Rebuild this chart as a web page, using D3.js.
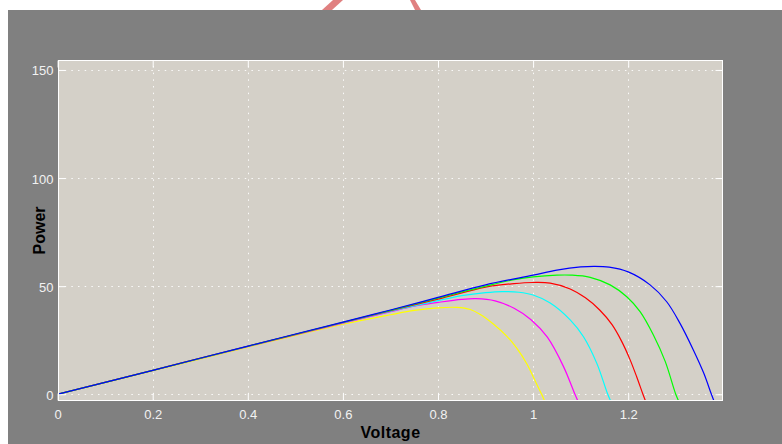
<!DOCTYPE html>
<html><head><meta charset="utf-8">
<script src="https://cdn.jsdelivr.net/npm/d3@7"></script>
<style>
html,body{margin:0;padding:0;background:#fff;}
svg{display:block;}
</style></head>
<body>
<svg id="c" width="782" height="444"></svg>
<script>
// ---- data ----
const xTicks = [0, 0.2, 0.4, 0.6, 0.8, 1, 1.2];
const xTickLabels = ["0", "0.2", "0.4", "0.6", "0.8", "1", "1.2"];
const yTicks = [0, 50, 100, 150];
const yTickLabels = ["0", "50", "100", "150"];
const xLabel = "Voltage";
const yLabel = "Power";

const seriesNames = ["yellow", "magenta", "cyan", "red", "green", "blue"];
const seriesColors = ["#ffff00", "#ff00ff", "#00ffff", "#ff0000", "#00ff00", "#0000ff"];

const yellowPts = [[0,0],[0.2,10.9],[0.4,21.8],[0.6,32.4],[0.7,36.8],[0.75,38.8],[0.8,40.0],[0.84,40.2],[0.868,39.2],[0.889,36.9],[0.917,32.4],[0.945,26.8],[0.966,21.2],[0.987,14.0],[1.003,6.8],[1.018,0],[1.026,-4]];
const magentaPts = [[0,0],[0.2,11.0],[0.4,22.0],[0.6,32.9],[0.7,38.2],[0.75,40.8],[0.8,42.5],[0.85,43.9],[0.88,44.2],[0.92,43.2],[0.96,39.8],[0.995,34.6],[1.03,26.4],[1.064,12.8],[1.088,0],[1.096,-4]];
const cyanPts = [[0,0],[0.2,11.0],[0.4,22.1],[0.6,33.1],[0.7,38.5],[0.8,43.3],[0.85,45.6],[0.9,47.0],[0.935,47.5],[0.97,47.2],[1.0,45.9],[1.036,42.2],[1.078,34.4],[1.106,26.6],[1.134,14.3],[1.157,0],[1.165,-4]];
const redPts = [[0,0],[0.2,11.1],[0.4,22.2],[0.6,33.2],[0.7,38.7],[0.8,44.0],[0.9,49.6],[0.96,51.2],[1.0,51.7],[1.036,51.4],[1.078,48.7],[1.11,44.6],[1.14,39.0],[1.166,32.2],[1.186,24.6],[1.203,16.5],[1.218,8.0],[1.231,0],[1.238,-4]];
const greenPts = [[0,0],[0.2,11.1],[0.4,22.2],[0.6,33.3],[0.7,38.8],[0.8,44.5],[0.9,50.0],[0.96,53.0],[1.0,54.3],[1.05,55.1],[1.08,55.1],[1.12,54.1],[1.162,50.6],[1.197,45.1],[1.225,38.2],[1.253,27.4],[1.278,15.1],[1.30,0],[1.308,-4]];
const bluePts = [[0,0],[0.2,11.1],[0.4,22.3],[0.6,33.4],[0.7,39.0],[0.8,44.8],[0.9,50.6],[1.0,55.1],[1.05,57.4],[1.1,58.9],[1.13,59.2],[1.16,58.8],[1.2,56.6],[1.246,50.6],[1.281,42.8],[1.309,32.8],[1.337,20.5],[1.359,9.7],[1.375,0],[1.382,-4]];

const seriesData = [yellowPts, magentaPts, cyanPts, redPts, greenPts, bluePts];

// ---- layout ----
const svg = d3.select("#c");
const L = 58, R = 723, T = 60, B = 401;
const x = d3.scaleLinear().domain([0, 1.4]).range([57.6, 723.3]);
const y = d3.scaleLinear().domain([-3.1, 154.6]).range([B, T]);

// figure background
svg.append("rect").attr("x", 8).attr("y", 10).attr("width", 782 - 8).attr("height", 444 - 10).attr("fill", "#808080");

// faint red marks at the top edge
svg.append("path").attr("d", "M333,0 L343,0 L332,10 L322,10 Z").attr("fill", "#e08080");
svg.append("path").attr("d", "M410,0 L415,0 L421,10 L415,10 Z").attr("fill", "#e08080");

// plot background
svg.append("rect").attr("x", L).attr("y", T).attr("width", R - L).attr("height", B - T).attr("fill", "#d4d0c8");

// grid
const grid = svg.append("g").attr("stroke", "#ffffff").attr("stroke-width", 1).attr("stroke-dasharray", "1.5,5.17").attr("opacity", 0.9);
grid.selectAll("line.gx").data(xTicks.slice(1)).join("line")
  .attr("x1", d => Math.round(x(d)) + 0.5).attr("x2", d => Math.round(x(d)) + 0.5)
  .attr("y1", B).attr("y2", T);
grid.selectAll("line.gy").data(yTicks).join("line")
  .attr("y1", d => Math.round(y(d)) + 0.5).attr("y2", d => Math.round(y(d)) + 0.5)
  .attr("x1", L).attr("x2", R);

// curves
const defs = svg.append("defs");
defs.append("clipPath").attr("id", "clip").append("rect").attr("x", L).attr("y", T).attr("width", R - L).attr("height", B - T);
const line = d3.line().x(d => x(d[0])).y(d => y(d[1])).curve(d3.curveCatmullRom.alpha(0.5));
svg.append("g").attr("clip-path", "url(#clip)")
  .selectAll("path").data(seriesData).join("path")
  .attr("d", line).attr("fill", "none")
  .attr("stroke", (d, i) => seriesColors[i]).attr("stroke-width", 1.2);

// box
svg.append("rect").attr("x", L + 0.5).attr("y", T + 0.5).attr("width", R - L - 1).attr("height", B - T - 1)
  .attr("fill", "none").attr("stroke", "#ffffff").attr("stroke-width", 1);

// axes with inward ticks
const tickFont = "'Liberation Sans', Arial, sans-serif";
const axB = d3.axisBottom(x).tickValues(xTicks).tickFormat((d, i) => xTickLabels[i]).tickSize(-7).tickPadding(6);
const gB = svg.append("g").attr("transform", `translate(0,${B - 0.5})`).call(axB);
const axT = d3.axisTop(x).tickValues(xTicks).tickFormat("").tickSize(-7);
const gT = svg.append("g").attr("transform", `translate(0,${T + 0.5})`).call(axT);
const axL = d3.axisLeft(y).tickValues(yTicks).tickFormat((d, i) => yTickLabels[i]).tickSize(-7).tickPadding(5);
const gL = svg.append("g").attr("transform", `translate(${L + 0.5},0)`).call(axL);
const axR = d3.axisRight(y).tickValues(yTicks).tickFormat("").tickSize(-7);
const gR = svg.append("g").attr("transform", `translate(${R - 0.5},0)`).call(axR);

[gB, gT, gL, gR].forEach(g => {
  g.select(".domain").remove();
  g.selectAll(".tick line").attr("stroke", "#ffffff").attr("stroke-width", 1);
  g.selectAll(".tick text").attr("fill", "#f2f2f2").style("font-family", tickFont).style("font-size", "13px");
});
gB.selectAll(".tick text").attr("dy", null).attr("y", 18);
gL.selectAll(".tick text").attr("dy", null).attr("y", 5).attr("x", -5);

// axis labels
svg.append("text").attr("x", (L + R) / 2).attr("y", 438).attr("text-anchor", "middle")
  .style("font-family", tickFont).style("font-size", "16px").style("font-weight", "bold").style("letter-spacing", "0.5px")
  .attr("fill", "#000").text(xLabel);
svg.append("text").attr("transform", `translate(45,${(T + B) / 2}) rotate(-90)`).attr("text-anchor", "middle")
  .style("font-family", tickFont).style("font-size", "16px").style("font-weight", "bold")
  .attr("fill", "#000").text(yLabel);
</script>
</body></html>
